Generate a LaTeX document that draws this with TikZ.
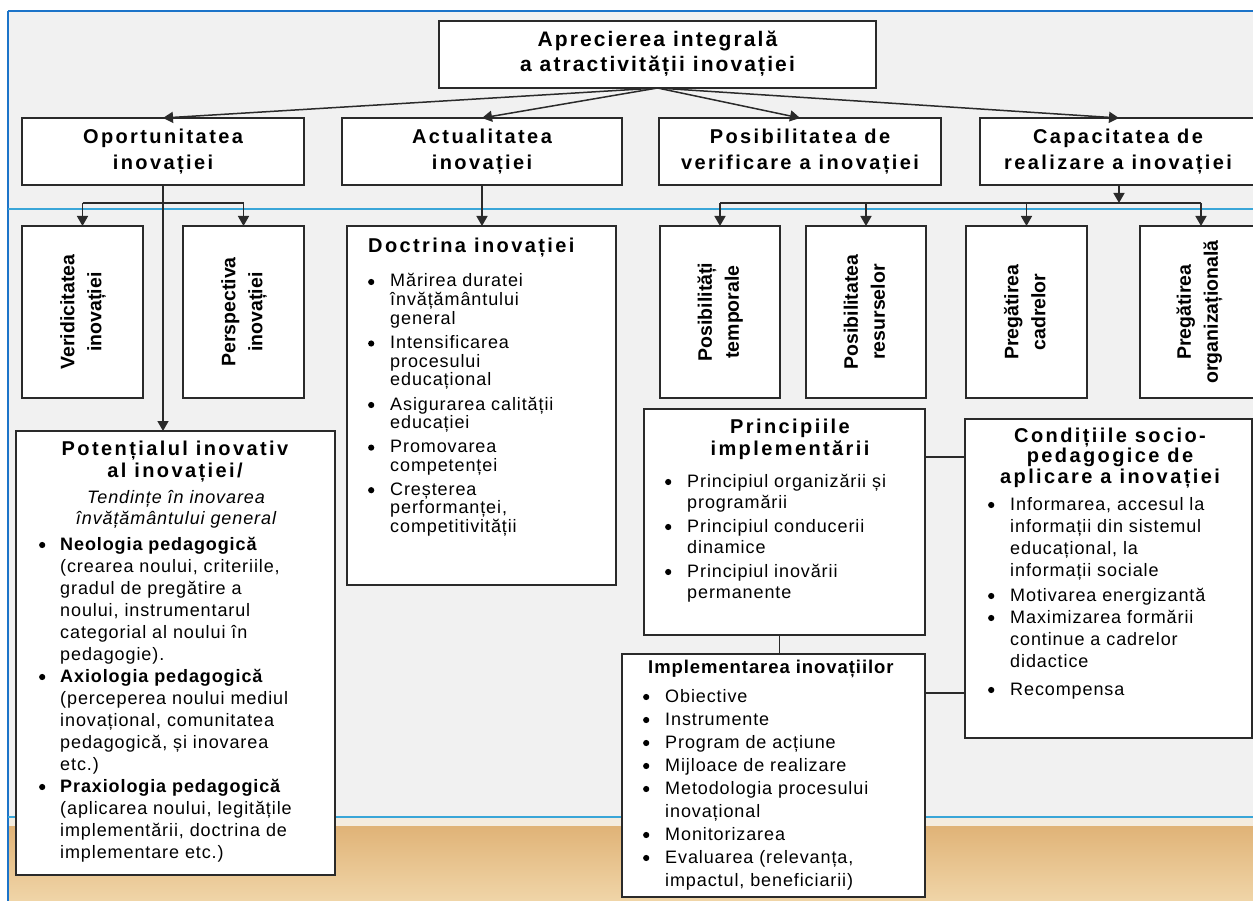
\documentclass[tikz,border=0pt]{standalone}
\usepackage{fontspec}
\usepackage{graphicx}
\setmainfont{Liberation Sans}
\newfontfamily\hdA{Liberation Sans}[LetterSpace=10]
\newfontfamily\hdB{Liberation Sans}[LetterSpace=12]
\newfontfamily\txf{Liberation Sans}[LetterSpace=5]
\newfontfamily\vtf{Liberation Sans}
\usetikzlibrary{arrows.meta,calc}
\definecolor{bgc}{HTML}{F1F1F1}
\definecolor{lc}{HTML}{2A2A2A}
\definecolor{blueA}{HTML}{1C74C9}
\definecolor{blueB}{HTML}{3AA6D8}
\definecolor{pale}{HTML}{F4ECDF}
\definecolor{tanA}{HTML}{E0B377}
\definecolor{tanB}{HTML}{F0D5A8}
\newcommand{\bul}{\tikz[baseline=-5pt]\fill[black] (0,0) circle (3.1pt);}
\newcommand{\bi}[1]{\llap{\makebox[0pt][c]{\bul}\hspace{#1}}}
\newcommand{\bx}[5]{\node[box, minimum width={(#4)-(#2)}, minimum height={(#5)-(#3)}] (#1) at ({((#2)+(#4))/2},{((#3)+(#5))/2}) {};}
\tikzset{
  box/.style={draw=lc, fill=white, line width=1.5pt, inner sep=0pt, outer sep=0pt},
  conn/.style={draw=lc, line width=1.5pt},
  arr/.style={conn, -{Triangle[width=11pt,length=10pt]}},
  ttl/.style={inner sep=0pt, font=\hdA\bfseries\fontsize{21}{25}\selectfont},
  lvl/.style={inner sep=0pt, font=\hdB\bfseries\fontsize{20}{26}\selectfont},
  vtx/.style={inner sep=0pt, rotate=90, font=\vtf\bfseries\fontsize{19.5}{27}\selectfont},
  hdg/.style={inner sep=0pt, font=\hdB\bfseries\fontsize{20}{22}\selectfont},
  lst/.style={inner sep=0pt, anchor=base west},
}
\begin{document}
\begin{tikzpicture}[x=1pt,y=-1pt]
\useasboundingbox (0,0) rectangle (1253,901);
\clip (0,0) rectangle (1253,901);
% background
\fill[white] (0,0) rectangle (1253,901);
\fill[bgc] (8,11) rectangle (1253,817);
\fill[pale] (8,817) rectangle (1253,826);
\shade[top color=tanA, bottom color=tanB] (8,826) rectangle (1253,901);
\draw[blueA, line width=2.2pt] (8,11) -- (1253,11);
\draw[blueA, line width=2.2pt] (8,11) -- (8,901);
\draw[blueB, line width=2pt] (8,209) -- (1253,209);
\draw[blueB, line width=2pt] (8,817) -- (1253,817);
% boxes
\bx{top}{439}{21}{876}{88}
\bx{opo}{22}{118}{304}{185}
\bx{act}{342}{118}{622}{185}
\bx{pos}{659}{118}{941}{185}
\bx{cap}{980}{118}{1258}{185}
\bx{ver}{22}{226}{143}{398}
\bx{per}{183}{226}{304}{398}
\bx{doc}{347}{226}{616}{585}
\bx{tem}{660}{226}{780}{398}
\bx{res}{806}{226}{926}{398}
\bx{cad}{966}{226}{1087}{398}
\bx{org}{1140}{226}{1262}{398}
\bx{pot}{16}{431}{335}{875}
\bx{pri}{644}{409}{925}{635}
\bx{con}{965}{419}{1252}{738}
\bx{imp}{622}{654}{925}{897}
% connectors
\draw[arr] (top.south) -- (opo.north);
\draw[arr] (top.south) -- (act.north);
\draw[arr] (top.south) -- (pos.north);
\draw[arr] (top.south) -- (cap.north);
\draw[arr] (opo.south) -- (opo.south |- pot.north);
\coordinate (oj) at ($(opo.south)+(0,18)$);
\draw[conn] (ver.north |- oj) -- (per.north |- oj);
\draw[arr] (ver.north |- oj) -- (ver.north);
\draw[arr] (per.north |- oj) -- (per.north);
\draw[arr] (act.south) -- (act.south |- doc.north);
\coordinate (cj) at ($(cap.south)+(0,18)$);
\draw[arr] (cap.south) -- (cj);
\draw[conn] (tem.north |- cj) -- (org.north |- cj);
\draw[arr] (tem.north |- cj) -- (tem.north);
\draw[arr] (res.north |- cj) -- (res.north);
\draw[arr] (cad.north |- cj) -- (cad.north);
\draw[arr] (org.north |- cj) -- (org.north);
\coordinate (pj) at ($(pri.south)+(-5,0)$);
\draw[conn] (pj) -- (pj |- imp.north);
\coordinate (pc) at ($(pri.north east)+(0,48)$);
\draw[conn] (pc) -- (pc -| con.west);
\coordinate (ic) at ($(imp.north east)+(0,39)$);
\draw[conn] (ic) -- (ic -| con.west);
% texts top levels
\node[ttl] (topt) at (top) {\begin{tabular}{@{}c@{}}Aprecierea integrală\\a atractivității inovației\end{tabular}};
\node[lvl] (opot) at (opo) {\begin{tabular}{@{}c@{}}Oportunitatea\\inovației\end{tabular}};
\node[lvl] (actt) at (act) {\begin{tabular}{@{}c@{}}Actualitatea\\inovației\end{tabular}};
\node[lvl] (post) at (pos) {\begin{tabular}{@{}c@{}}Posibilitatea de\\verificare a inovației\end{tabular}};
\node[lvl] (capt) at (1118,151.5) {\begin{tabular}{@{}c@{}}Capacitatea de\\realizare a inovației\end{tabular}};
% vertical texts
\node[vtx] (vert) at (ver) {\begin{tabular}{@{}c@{}}Veridicitatea\\inovației\end{tabular}};
\node[vtx] (pert) at (per) {\begin{tabular}{@{}c@{}}Perspectiva\\inovației\end{tabular}};
\node[vtx] (temt) at (tem) {\begin{tabular}{@{}c@{}}Posibilități\\temporale\end{tabular}};
\node[vtx] (rest) at (res) {\begin{tabular}{@{}c@{}}Posibilitatea\\resurselor\end{tabular}};
\node[vtx] (cadt) at (cad) {\begin{tabular}{@{}c@{}}Pregătirea\\cadrelor\end{tabular}};
\node[vtx] (orgt) at (1199,312) {\begin{tabular}{@{}c@{}}Pregătirea\\organizațională\end{tabular}};
% Doctrina
\node[hdg, anchor=base west] (doct) at (368,253) {Doctrina inovației};
\node[lst, font=\txf\fontsize{18}{18.5}\selectfont] (docl) at (390,287) {\begin{tabular}[t]{@{}l@{}}
\bi{19pt}Mărirea duratei\\ învățământului\\ general\\[5.5pt]
\bi{19pt}Intensificarea\\ procesului\\ educațional\\[5.5pt]
\bi{19pt}Asigurarea calității\\ educației\\[5.5pt]
\bi{19pt}Promovarea\\ competenței\\[5.5pt]
\bi{19pt}Creșterea\\ performanței,\\ competitivității
\end{tabular}};
% Potentialul
\node[hdg, anchor=base] (pott) at (175,455) {\begin{tabular}[t]{@{}c@{}}Potențialul inovativ\\al inovației/\end{tabular}};
\node[inner sep=0pt, anchor=base, font=\txf\itshape\fontsize{18}{21}\selectfont] (poti) at (176,503) {\begin{tabular}[t]{@{}c@{}}Tendințe în inovarea\\învățământului general\end{tabular}};
\node[lst, font=\txf\fontsize{18}{22}\selectfont] (potl) at (60,550) {\begin{tabular}[t]{@{}l@{}}
\bi{18pt}\textbf{Neologia pedagogică}\\ (crearea noului, criteriile,\\ gradul de pregătire a\\ noului, instrumentarul\\ categorial al noului în\\ pedagogie).\\
\bi{18pt}\textbf{Axiologia pedagogică}\\ (perceperea noului mediul\\ inovațional, comunitatea\\ pedagogică, și inovarea\\ etc.)\\
\bi{18pt}\textbf{Praxiologia pedagogică}\\ (aplicarea noului, legitățile\\ implementării, doctrina de\\ implementare etc.)
\end{tabular}};
% Principiile
\node[hdg, anchor=base] (prit) at (790,433) {\begin{tabular}[t]{@{}c@{}}Principiile\\implementării\end{tabular}};
\node[lst, font=\txf\fontsize{18}{21}\selectfont] (pril) at (687,487) {\begin{tabular}[t]{@{}l@{}}
\bi{19pt}Principiul organizării și\\ programării\\[3pt]
\bi{19pt}Principiul conducerii\\ dinamice\\[3pt]
\bi{19pt}Principiul inovării\\ permanente
\end{tabular}};
% Conditiile
\node[hdg, anchor=base, font=\hdB\bfseries\fontsize{20}{20.5}\selectfont] (cont) at (1110,442) {\begin{tabular}[t]{@{}c@{}}Condițiile socio-\\pedagogice de\\aplicare a inovației\end{tabular}};
\node[lst, font=\txf\fontsize{18}{22}\selectfont] (conl) at (1010,510) {\begin{tabular}[t]{@{}l@{}}
\bi{19pt}Informarea, accesul la\\ informații din sistemul\\ educațional, la\\ informații sociale\\[3pt]
\bi{19pt}Motivarea energizantă\\
\bi{19pt}Maximizarea formării\\ continue a cadrelor\\ didactice\\[6pt]
\bi{19pt}Recompensa
\end{tabular}};
% Implementarea
\node[inner sep=0pt, anchor=base west, font=\txf\bfseries\fontsize{18.5}{22}\selectfont] (impt) at (648,673) {Implementarea inovațiilor};
\node[lst, font=\txf\fontsize{18}{23}\selectfont] (impl) at (665,702) {\begin{tabular}[t]{@{}l@{}}
\bi{19pt}Obiective\\
\bi{19pt}Instrumente\\
\bi{19pt}Program de acțiune\\
\bi{19pt}Mijloace de realizare\\
\bi{19pt}Metodologia procesului\\ inovațional\\
\bi{19pt}Monitorizarea\\
\bi{19pt}Evaluarea (relevanța,\\ impactul, beneficiarii)
\end{tabular}};
\end{tikzpicture}
\end{document}
